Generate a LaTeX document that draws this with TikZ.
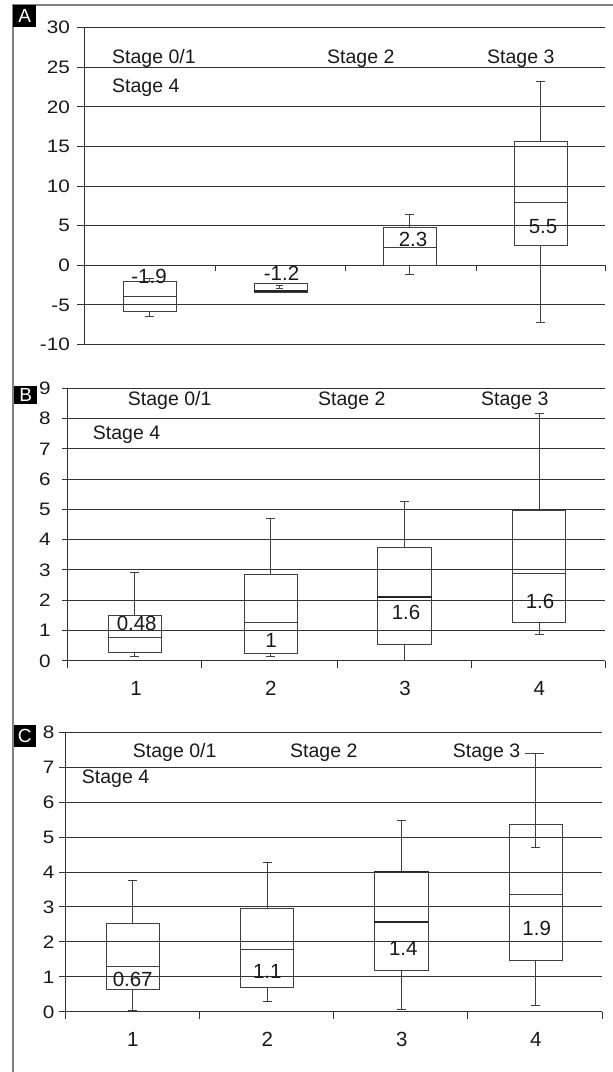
\documentclass[tikz,border=0pt]{standalone}
\usepackage{fontspec}
\setmainfont{Liberation Sans}
\newfontfamily\tickfont[FakeStretch=1.15]{Liberation Sans}
\tikzset{
  gridln/.style={draw=black!80, line width=0.9pt},
  boxst/.style={draw=black!75, line width=1pt},
  thickmed/.style={draw=black!85, line width=1.8pt},
  framest/.style={draw=black!50, line width=1.4pt},
  stg/.style={font=\fontsize{19.5}{20}\selectfont, anchor=base west, inner sep=0pt, text=black!90},
  val/.style={font=\fontsize{20.5}{21}\selectfont, anchor=base, inner sep=0pt, text=black!90},
  ytl/.style={font=\tickfont\fontsize{18}{19}\selectfont, anchor=base east, inner sep=0pt, text=black!90},
  xtl/.style={font=\fontsize{20.5}{21}\selectfont, anchor=base, inner sep=0pt, text=black!90},
  plab/.style={fill=black, text=white, font=\fontsize{19}{19}\selectfont, inner sep=0pt, anchor=north west}
}
\newcommand{\mybox}[7]{%
  \draw[boxst] (#1,#4) rectangle (#2,#6);
  \draw[boxst] ({(#1+#2)/2},#3) -- ({(#1+#2)/2},#4)
               ({(#1+#2)/2},#6) -- ({(#1+#2)/2},#7)
               ({(#1+#2)/2-4.5},#3) -- ({(#1+#2)/2+4.5},#3)
               ({(#1+#2)/2-4.5},#7) -- ({(#1+#2)/2+4.5},#7);
}
\begin{document}
\begin{tikzpicture}[x=1pt,y=-1pt]
\useasboundingbox (0,0) rectangle (613,1072);
% frame
\draw[framest] (13,1072) -- (13,5) -- (613,5);

% ================= Panel A =================
\foreach \v in {-10,-5,...,30} {
  \draw[gridln] (77,{265.3-7.925*\v}) -- (605,{265.3-7.925*\v});
  \node[ytl] (ya\v) at (70,{265.3-7.925*\v+6.3}) {\v};
}
\draw[gridln] (84,{265.3-7.925*30}) -- (84,{265.3+7.925*10});
\foreach \x in {215,345,476,605} \draw[gridln] (\x,265.3) -- (\x,271);
\node[plab, minimum width=23pt, minimum height=22pt] (pA) at (13,5) {A};

\mybox{123}{176}{278}{281.5}{296.2}{311.5}{316}
\draw[boxst] (123,296.2) -- (176,296.2);
% box A2
\draw[boxst] (254,283) rectangle (307,292.5);
\draw[thickmed] (254,291.3) -- (307,291.3);
\draw[boxst] (279,285.7) -- (279,288.7) (275.5,285.7) -- (282.5,285.7) (275.5,288.7) -- (282.5,288.7);
\mybox{383}{436}{214.3}{227.7}{247.3}{265.3}{274.7}
\draw[boxst] (383,247.3) -- (436,247.3);
\mybox{514}{567}{81}{141.7}{202.3}{245.7}{322.7}
\draw[boxst] (514,202.3) -- (567,202.3);

\node[val] (va1) at (149,283.3) {-1.9};
\node[val] (va2) at (281.5,280.5) {-1.2};
\node[val] (va3) at (413,246.6) {2.3};
\node[val] (va4) at (543,233.3) {5.5};

\node[stg] (sa01) at (112,63) {Stage 0/1};
\node[stg] (sa4) at (112,92) {Stage 4};
\node[stg] (sa2) at (327,63) {Stage 2};
\node[stg] (sa3) at (487,63) {Stage 3};

% ================= Panel B =================
\foreach \v in {0,...,9} {
  \draw[gridln] (62,{660.7-30.27*\v}) -- (605.3,{660.7-30.27*\v});
  \node[ytl] (yb\v) at (50.8,{660.7-30.27*\v+6.3}) {\v};
}
\draw[gridln] (67.7,388.3) -- (67.7,668);
\foreach \x in {201.7,337.3,471.7,605.3} \draw[gridln] (\x,660.7) -- (\x,668);
\node[plab, minimum width=23pt, minimum height=17.5pt] (pB) at (14,386) {B};

\mybox{108}{161.7}{572.7}{615}{637}{652.3}{656.7}
\draw[boxst] (108,637) -- (161.7,637);
\mybox{244}{297.3}{518.7}{574.7}{622.3}{653.7}{656.7}
\draw[boxst] (244,622.3) -- (297.3,622.3);
\mybox{377.7}{431.7}{501}{547.7}{596.7}{644.3}{660.7}
\draw[thickmed] (377.7,596.7) -- (431.7,596.7);
\mybox{512.3}{565.7}{413.3}{510.3}{573.3}{622}{634.3}
\draw[boxst] (512.3,573.3) -- (565.7,573.3);

\node[val] (vb1) at (136.7,630.6) {0.48};
\node[val] (vb2) at (271,647.3) {1};
\node[val] (vb3) at (406,619) {1.6};
\node[val] (vb4) at (540,608) {1.6};

\node[stg] (sb01) at (127.7,405) {Stage 0/1};
\node[stg] (sb4) at (92.7,439.3) {Stage 4};
\node[stg] (sb2) at (318,405) {Stage 2};
\node[stg] (sb3) at (481,405) {Stage 3};

\node[xtl] (xb1) at (136,695.5) {1};
\node[xtl] (xb2) at (270.7,695.5) {2};
\node[xtl] (xb3) at (405,695.5) {3};
\node[xtl] (xb4) at (539.3,695.5) {4};

% ================= Panel C =================
\foreach \v in {0,...,8} {
  \draw[gridln] (59,{1011.7-34.93*\v}) -- (602,{1011.7-34.93*\v});
  \node[ytl] (yc\v) at (54.5,{1011.7-34.93*\v+6.3}) {\v};
}
\draw[gridln] (65,732.3) -- (65,1019);
\foreach \x in {199,333.3,467.7,602} \draw[gridln] (\x,1011.7) -- (\x,1019);
\node[plab, minimum width=22.7pt, minimum height=21.7pt] (pC) at (13.3,725) {C};

\mybox{106}{159.3}{880}{923.3}{966}{989}{1010}
\draw[boxst] (106,966) -- (159.3,966);
\mybox{240.7}{293.3}{862.7}{908.3}{949.3}{987.7}{1001}
\draw[boxst] (240.7,949.3) -- (293.3,949.3);
\mybox{374.3}{428.3}{820.3}{871.7}{922}{970.7}{1009.3}
\draw[thickmed] (374.3,922) -- (428.3,922);
\draw[thickmed, line width=1.3pt] (374.3,871.7) -- (428.3,871.7);
% box C4
\draw[boxst] (509,824.3) rectangle (562.3,960);
\draw[boxst] (509,894.7) -- (562.3,894.7);
\draw[boxst] (535.7,753.3) -- (535.7,847.3) (525,753.3) -- (544.3,753.3) (531.2,847.3) -- (540.2,847.3);
\draw[boxst] (535.7,960) -- (535.7,1005) (531.2,1005) -- (540.2,1005);

\node[val] (vc1) at (132.7,986.6) {0.67};
\node[val] (vc2) at (267.3,978) {1.1};
\node[val] (vc3) at (403.3,955.6) {1.4};
\node[val] (vc4) at (536.7,935.6) {1.9};

\node[stg] (sc01) at (132.7,757) {Stage 0/1};
\node[stg] (sc4) at (81.7,783.7) {Stage 4};
\node[stg] (sc2) at (290,757) {Stage 2};
\node[stg] (sc3) at (452.7,757) {Stage 3};

\node[xtl] (xc1) at (132.7,1046.3) {1};
\node[xtl] (xc2) at (267.3,1046.3) {2};
\node[xtl] (xc3) at (401.7,1046.3) {3};
\node[xtl] (xc4) at (535.7,1046.3) {4};
\end{tikzpicture}
\end{document}
